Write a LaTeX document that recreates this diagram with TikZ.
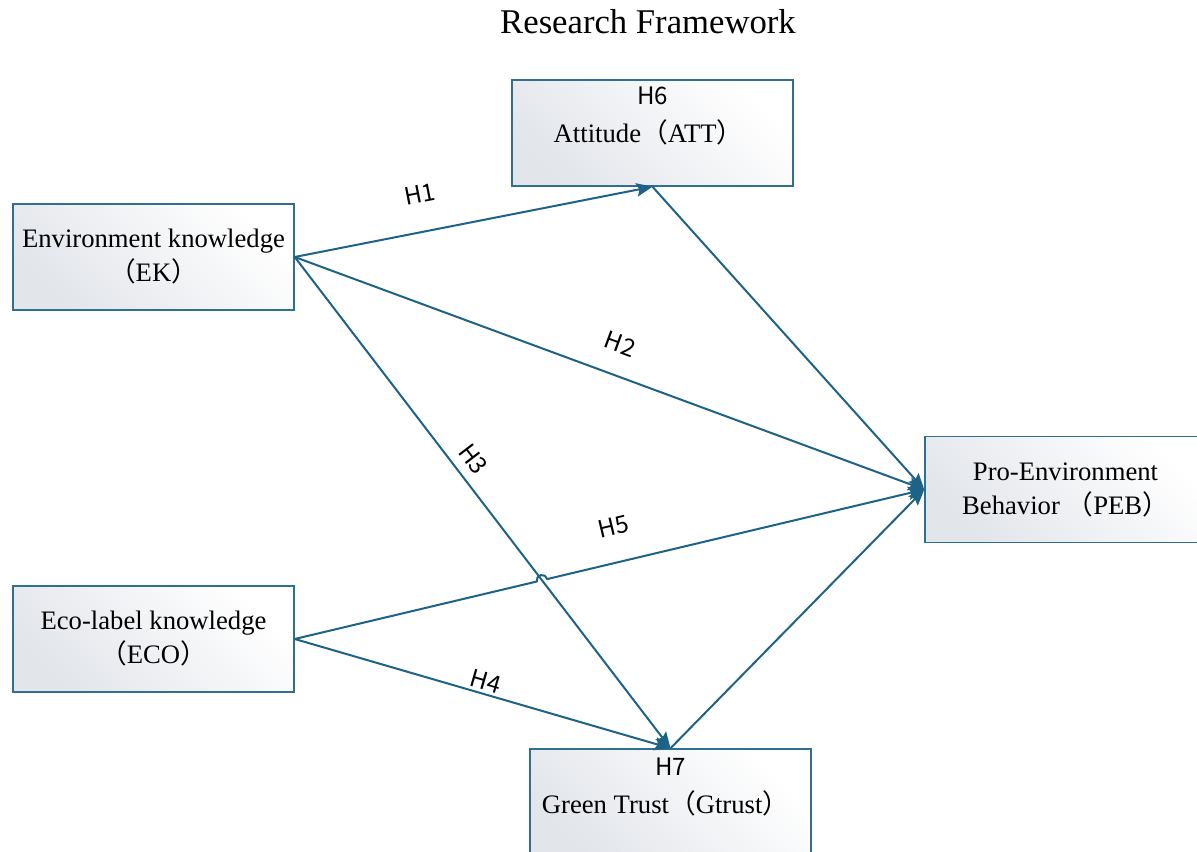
\documentclass[tikz,border=0pt]{standalone}
\usepackage{fontspec}
\setmainfont{Liberation Serif}
\newfontfamily\cjk{Noto Sans CJK SC}
\newfontfamily\hfont{Noto Sans CJK SC}
\usepackage{xcolor}
\usepackage{tikz}
\usetikzlibrary{arrows.meta,calc,positioning,intersections}
\definecolor{link}{HTML}{1D6287}
\definecolor{frame}{HTML}{2F6F8F}
\definecolor{shadefill}{HTML}{E2E5EA}
\newcommand{\lp}{{\cjk （}}
\newcommand{\rp}{{\cjk ）}}
\tikzset{
  varbox/.style={draw=frame,line width=1.1pt,left color=shadefill,right color=white,shading angle=135,
    minimum width=210.75pt,minimum height=79.5pt,inner sep=0pt},
  vartext/.style={font=\fontsize{20}{25.5}\selectfont,align=center,inner sep=0pt},
  hlabel/.style={font=\hfont\fontsize{18}{20}\selectfont,inner sep=1pt},
  hyp/.style={hlabel,sloped},
  link/.style={-{Stealth[length=12pt,width=10pt,inset=2pt]},draw=link,line width=1.5pt}
}
\begin{document}
\begin{tikzpicture}[x=0.75pt,y=-0.75pt]
  \useasboundingbox (0,0) rectangle (1197,852);
  \clip (0,0) rectangle (1197,852);
  \node[font=\fontsize{26}{30}\selectfont] (title) at (648,22) {Research Framework};
  % constructs
  \node[varbox] (att) at (652.5,133) {};
  \node[varbox] (ek) at (153.5,257) {};
  \node[varbox] (peb) at (1065.5,489.5) {};
  \node[varbox] (eco) at (153.5,639) {};
  \node[varbox] (gt) at (670.5,802) {};
  \node[hlabel] (h6) at ($(att.north)+(0,17)$) {H6};
  \node[vartext] (atttxt) at ($(att.north)+(-4,53)$) {Attitude\lp ATT\rp};
  \node[vartext] (ektxt) at (ek) {Environment knowledge\\\lp EK\rp};
  \node[vartext] (pebtxt) at (peb) {Pro-Environment\\Behavior \lp PEB\rp};
  \node[vartext] (ecotxt) at (eco) {Eco-label knowledge\\\lp ECO\rp};
  \node[hlabel] (h7) at ($(gt.north)+(0,18)$) {H7};
  \node[vartext] (gttxt) at ($(gt.north)+(-5,55)$) {Green Trust\lp Gtrust\rp};
  % hypotheses
  \draw[link] (ek.east) -- node[hyp,pos=0.37,above=20pt] (h1) {H1} (att.south);
  \draw[link] (ek.east) -- node[hyp,pos=0.50,above=15pt] (h2) {H2} (peb.west);
  \draw[link,name path=ekgt] (ek.east) -- node[hyp,pos=0.435,above=6pt] (h3) {H3} (gt.north);
  \draw[link] (eco.east) -- node[hyp,pos=0.50,above=1pt] (h4) {H4} (gt.north);
  \draw[link] (att.south) -- (peb.west);
  \draw[link] (gt.north) -- (peb.west);
  \path[name path=ecopeb] (eco.east) -- node[hyp,pos=0.52,above=19pt] (h5) {H5} (peb.west);
  \path[name intersections={of=ekgt and ecopeb,by=jump}];
  \draw[link] let \p1=($(peb.west)-(eco.east)$), \n1={atan2(\y1,\x1)} in
    (eco.east) -- ($(jump)!4pt!(eco.east)$) arc[start angle=\n1+180,delta angle=-180,radius=4pt] -- (peb.west);
\end{tikzpicture}
\end{document}
